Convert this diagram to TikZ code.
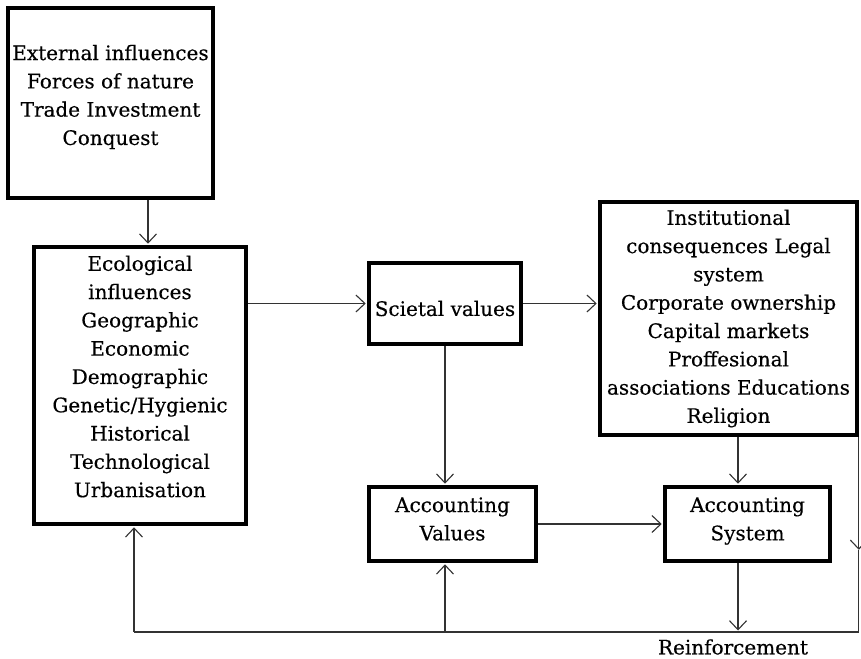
\documentclass[tikz,border=0pt]{standalone}
\usepackage{fontspec}
\setmainfont{DejaVu Serif}
\newfontfamily\boxfont{DejaVu Serif}[FakeBold=0.4]
\usetikzlibrary{arrows.meta,calc}
\tikzset{
  box/.style={draw, line width=3.6pt, inner sep=0pt},
  txt/.style={align=center, inner sep=0pt,
    font=\boxfont\fontsize{20}{28.3}\selectfont},
  link/.style={line width=1.1pt, draw=black!80, shorten >=1.5pt,
    -{Straight Barb[length=9pt,width=17pt]}},
  plain/.style={line width=1.1pt, draw=black!80},
}
\begin{document}
\begin{tikzpicture}[x=1pt,y=-1pt]
  \useasboundingbox (0,0) rectangle (861,658);

  % BOXES
  % external influences
  \node[box, minimum width=205pt, minimum height=190pt] (ext) at (110.5,103) {};
  \node[txt] (extT) at ($(ext)+(0,-6)$)
    {External influences\\Forces of nature\\Trade Investment\\Conquest};

  % ecological influences
  \node[box, minimum width=212pt, minimum height=277pt] (eco) at (140,385.5) {};
  \node[txt] (ecoT) at ($(eco)+(0,-9)$)
    {Ecological\\influences\\Geographic\\Economic\\Demographic\\Genetic/Hygienic\\Historical\\Technological\\Urbanisation};

  % societal values
  \node[box, minimum width=152pt, minimum height=81pt] (soc) at (445,303.5) {};
  \node[txt] (socT) at ($(soc)+(0,5)$) {Scietal values};

  % institutional consequences
  \node[box, minimum width=257pt, minimum height=233pt] (inst) at (728.5,318.5) {};
  \node[txt] (instT) at ($(inst)+(0,0)$)
    {Institutional\\consequences Legal\\system\\Corporate ownership\\Capital markets\\Proffesional\\associations Educations\\Religion};

  % accounting values / system
  \node[box, minimum width=167pt, minimum height=74pt] (accv) at (452.5,524) {};
  \node[txt] (accvT) at ($(accv)+(0,-5)$) {Accounting\\Values};
  \node[box, minimum width=165pt, minimum height=74pt] (accs) at (747.5,524) {};
  \node[txt] (accsT) at ($(accs)+(0,-3)$) {Accounting\\System};

  % label of the loop
  \node[txt] (reinf) at (733,647) {Reinforcement};

  % helper points
  \coordinate (col) at (738,0);          % column of the right arrows
  \coordinate (loopL) at (134,632);      % bottom left corner of the loop
  \coordinate (loopR) at (inst.south east |- loopL);
  \coordinate (midR) at ($(inst.south east)+(0,113)$);

  % ARROWS
  \draw[link] ([xshift=37.5pt]ext.south) -- ([xshift=37.5pt]ext.south |- eco.north);
  \draw[link] (eco.east |- soc.west) -- (soc.west);
  \draw[link] (soc.east) -- (soc.east -| inst.west);
  \draw[link] (soc.south) -- (soc.south |- accv.north);
  \draw[link] (inst.south -| col) -- (accs.north -| col);
  \draw[link] (accv.east) -- (accv.east -| accs.west);
  \draw[link] (accs.south -| col) -- (loopR -| col);

  % FEEDBACK
  \draw[link, shorten >=0pt] (inst.south east) -- (midR);
  \draw[plain] (midR) -- (loopR) -- (loopL);
  \draw[link] (loopL) -- (loopL |- eco.south);
  \draw[link] (soc.south |- loopL) -- (soc.south |- accv.south);
\end{tikzpicture}
\end{document}
